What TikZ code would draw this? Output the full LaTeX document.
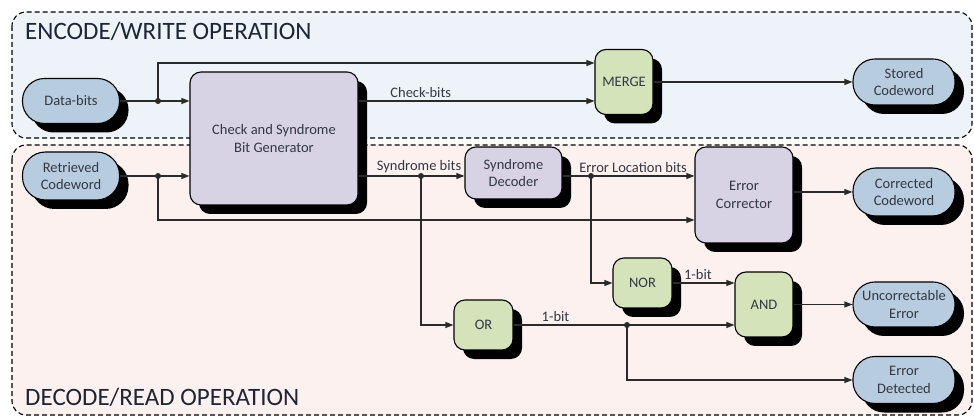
\documentclass[tikz,border=0pt]{standalone}
\usepackage{fontspec}
\setmainfont{Carlito}
\usetikzlibrary{shadows,arrows.meta}
\definecolor{topbg}{HTML}{EEF3F9}
\definecolor{botbg}{HTML}{FCF1EF}
\definecolor{termfill}{HTML}{B8CCE0}
\definecolor{procfill}{HTML}{D8D2E5}
\definecolor{gatefill}{HTML}{D5E3BA}
\definecolor{txt}{HTML}{333844}
\definecolor{ttl}{HTML}{1E2636}
\definecolor{wire}{HTML}{2A2A2A}
\tikzset{
  base/.style={draw=black, line width=1.1pt, text=txt,
    font=\fontsize{14.5}{17.5}\selectfont, align=center, inner sep=0pt,
    drop shadow={shadow xshift=9pt, shadow yshift=-9pt, fill=black, opacity=1}},
  term/.style={base, fill=termfill, minimum width=102pt, minimum height=46pt, rounded corners=22pt},
  proc/.style={base, fill=procfill, rounded corners=11pt},
  gate/.style={base, fill=gatefill, rounded corners=11pt},
  region/.style={draw=black, line width=1.1pt, dash pattern=on 5pt off 3pt, rounded corners=14pt},
  arr/.style={draw=wire, line width=1.1pt, -{Triangle[length=8pt,width=6pt]}},
  lbl/.style={text=txt, font=\fontsize{14.5}{17.5}\selectfont, inner sep=3pt},
  ttlstyle/.style={text=ttl, font=\fontsize{25}{29}\selectfont, inner sep=0pt, anchor=base west},
  dot/.style={fill=wire}
}
\begin{document}
\begin{tikzpicture}[x=1pt,y=-1pt]
\useasboundingbox (0,0) rectangle (974,419);
% regions
\draw[region, fill=topbg] (12,12) rectangle (972,138);
\draw[region, fill=botbg] (12,145) rectangle (972,415);
\node[ttlstyle] (t1) at (25,40) {ENCODE/WRITE OPERATION};
\node[ttlstyle] (t2) at (25,405) {DECODE/READ OPERATION};
% nodes
\node[term, minimum width=97pt, minimum height=45pt] (DB) at (71,101) {Data-bits};
\node[term, minimum width=97pt, minimum height=48pt, rounded corners=23pt] (RC) at (71,176) {Retrieved\\Codeword};
\node[proc, minimum width=168pt, minimum height=133pt] (CS) at (274,138.5) {Check and Syndrome\\Bit Generator};
\node[gate, minimum width=58pt, minimum height=65pt] (MG) at (624,82) {MERGE};
\node[term] (SC) at (904,82) {Stored\\Codeword};
\node[proc, minimum width=97pt, minimum height=52pt] (SD) at (513.5,173) {Syndrome\\Decoder};
\node[proc, minimum width=98pt, minimum height=96pt] (EC) at (744,195) {Error\\Corrector};
\node[term, minimum height=48pt, rounded corners=23pt] (CC) at (904,192) {Corrected\\Codeword};
\node[gate, minimum width=59pt, minimum height=50pt] (NOR) at (642.5,283) {NOR};
\node[gate, minimum width=58pt, minimum height=65pt] (AND) at (764,304.5) {AND};
\node[term, minimum height=45pt] (UE) at (904,304.5) {Uncorrectable\\Error};
\node[gate, minimum width=59pt, minimum height=50pt] (OR) at (483.5,325) {OR};
\node[term, minimum height=47pt] (ED) at (904,380) {Error\\Detected};
% junctions
\coordinate (j1) at (158,101);
\coordinate (j2) at (158,176);
\coordinate (j3) at (421,176);
\coordinate (j4) at (591,176);
\coordinate (j5) at (627,325);
\coordinate (yTop) at (0,63);
\coordinate (yLow) at (0,220);
% encode connectors
\draw[arr] (DB.east |- j1) -- (CS.west |- j1);
\draw[arr] (j1) |- (MG.west |- yTop);
\draw[arr] (CS.east |- j1) -- node[lbl, pos=0.12, anchor=south west] {Check-bits} (MG.west |- j1);
\draw[arr] (MG.east) -- (SC.west);
% decode connectors
\draw[arr] (RC.east |- j2) -- (CS.west |- j2);
\draw[arr] (j2) |- (EC.west |- yLow);
\draw[arr] (CS.east |- j3) -- node[lbl, pos=0.14, anchor=south west] {Syndrome bits} (SD.west |- j3);
\draw[arr] (j3) |- (OR.west);
\draw[arr] (SD.east |- j4) -- node[lbl, pos=0.1, anchor=south west] {Error Location bits} (EC.west |- j4);
\draw[arr] (j4) |- (NOR.west);
\draw[arr] (NOR.east) -- node[lbl, pos=0.41, anchor=south] {1-bit} (AND.west |- NOR.east);
\draw[arr] (OR.east) -- node[lbl, pos=0.19, anchor=south] {1-bit} (AND.west |- OR.east);
\draw[arr] (j5) |- (ED.west);
\draw[arr] (EC.east |- CC.west) -- (CC.west);
\draw[arr] (AND.east) -- (UE.west);
% dots
\fill[dot] (j1) circle (3pt);
\fill[dot] (j2) circle (3pt);
\fill[dot] (j3) circle (3pt);
\fill[dot] (j4) circle (3pt);
\fill[dot] (j5) circle (3pt);
\end{tikzpicture}
\end{document}
